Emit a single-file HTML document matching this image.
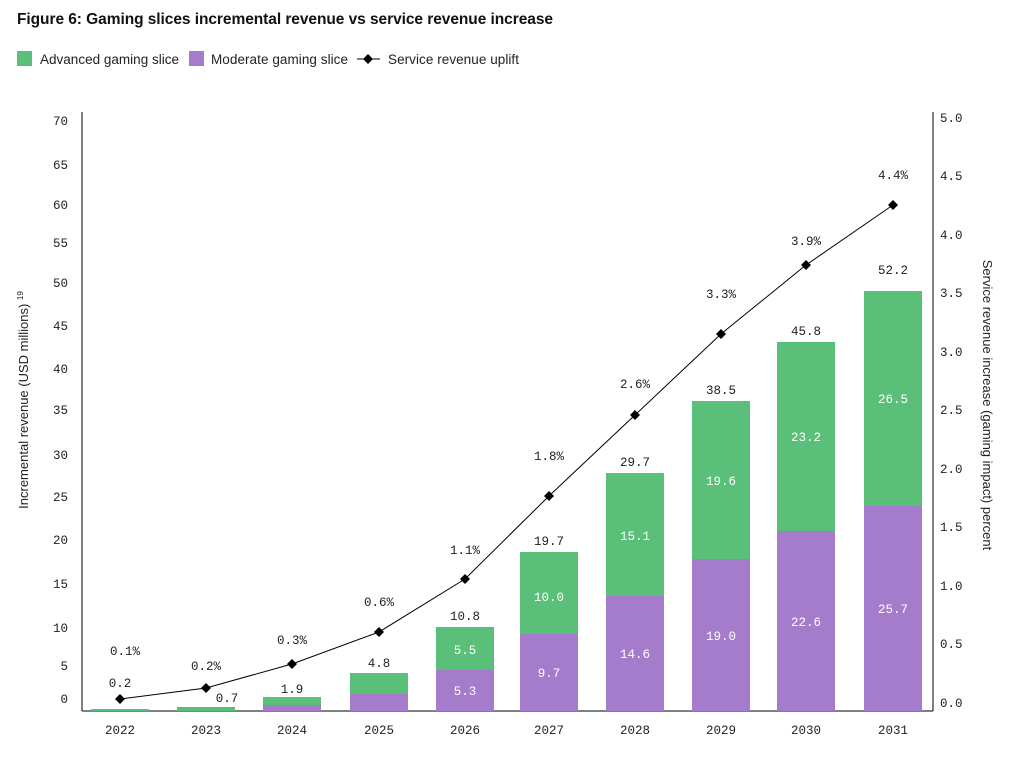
<!DOCTYPE html><html><head><style>body{margin:0;background:#fff}svg{display:block}</style></head><body>
<svg width="1024" height="774" xmlns="http://www.w3.org/2000/svg" font-family="Liberation Sans, sans-serif">
<text x="17" y="24" font-size="15.5" font-weight="bold" fill="#111" textLength="536">Figure 6: Gaming slices incremental revenue vs service revenue increase</text>
<rect x="17" y="51" width="15" height="15" fill="#5abf78"/><text x="40" y="64" font-size="13.5" fill="#222" textLength="139">Advanced gaming slice</text>
<rect x="189" y="51" width="15" height="15" fill="#a57ccc"/><text x="211" y="64" font-size="13.5" fill="#222" textLength="137">Moderate gaming slice</text>
<line x1="357" y1="59" x2="380" y2="59" stroke="#000"/><path d="M368 54l5 5-5 5-5-5z"/><text x="388" y="64" font-size="13.5" fill="#222" textLength="131">Service revenue uplift</text>
<line x1="82" y1="112" x2="82" y2="711" stroke="#000"/><line x1="933" y1="112" x2="933" y2="711" stroke="#000"/><line x1="82" y1="711" x2="933" y2="711" stroke="#000"/>
<g font-family="Liberation Mono, monospace" font-size="12.5" fill="#222" text-anchor="end">
<text x="68" y="125">70</text><text x="68" y="169">65</text><text x="68" y="209">60</text><text x="68" y="247">55</text><text x="68" y="287">50</text><text x="68" y="330">45</text><text x="68" y="373">40</text><text x="68" y="414">35</text><text x="68" y="459">30</text><text x="68" y="501">25</text><text x="68" y="544">20</text><text x="68" y="588">15</text><text x="68" y="632">10</text><text x="68" y="670">5</text><text x="68" y="703">0</text>
</g>
<g font-family="Liberation Mono, monospace" font-size="12.5" fill="#222">
<text x="940" y="122">5.0</text><text x="940" y="180">4.5</text><text x="940" y="239">4.0</text><text x="940" y="297">3.5</text><text x="940" y="356">3.0</text><text x="940" y="414">2.5</text><text x="940" y="473">2.0</text><text x="940" y="531">1.5</text><text x="940" y="590">1.0</text><text x="940" y="648">0.5</text><text x="940" y="707">0.0</text>
</g>
<text transform="translate(28,400) rotate(-90)" font-size="13" fill="#222" text-anchor="middle">Incremental revenue (USD millions) <tspan font-size="8" dy="-5">19</tspan></text>
<text transform="translate(983,405) rotate(90)" font-size="13" fill="#222" text-anchor="middle">Service revenue increase (gaming impact) percent</text>
<g>
<rect x="91" y="709" width="58" height="2" fill="#5abf78"/>
<rect x="177" y="707" width="58" height="4" fill="#5abf78"/>
<rect x="263" y="697" width="58" height="8" fill="#5abf78"/><rect x="263" y="705" width="58" height="6" fill="#a57ccc"/>
<rect x="350" y="673" width="58" height="21" fill="#5abf78"/><rect x="350" y="694" width="58" height="17" fill="#a57ccc"/>
<rect x="436" y="627" width="58" height="43" fill="#5abf78"/><rect x="436" y="670" width="58" height="41" fill="#a57ccc"/>
<rect x="520" y="552" width="58" height="82" fill="#5abf78"/><rect x="520" y="634" width="58" height="77" fill="#a57ccc"/>
<rect x="606" y="473" width="58" height="123" fill="#5abf78"/><rect x="606" y="596" width="58" height="115" fill="#a57ccc"/>
<rect x="692" y="401" width="58" height="158" fill="#5abf78"/><rect x="692" y="559" width="58" height="152" fill="#a57ccc"/>
<rect x="777" y="342" width="58" height="189" fill="#5abf78"/><rect x="777" y="531" width="58" height="180" fill="#a57ccc"/>
<rect x="864" y="291" width="58" height="215" fill="#5abf78"/><rect x="864" y="506" width="58" height="205" fill="#a57ccc"/>
</g>
<g font-family="Liberation Mono, monospace" font-size="12.5" fill="#fff" text-anchor="middle">
<text x="465" y="654">5.5</text><text x="465" y="695">5.3</text>
<text x="549" y="601">10.0</text><text x="549" y="677">9.7</text>
<text x="635" y="540">15.1</text><text x="635" y="658">14.6</text>
<text x="721" y="485">19.6</text><text x="721" y="640">19.0</text>
<text x="806" y="441">23.2</text><text x="806" y="626">22.6</text>
<text x="893" y="403">26.5</text><text x="893" y="613">25.7</text>
</g>
<polyline fill="none" stroke="#000" stroke-width="1" points="120,699 206,688 292,664 379,632 465,579 549,496 635,415 721,334 806,265 893,205"/>
<g fill="#000"><path d="M120 694l5 5-5 5-5-5z"/><path d="M206 683l5 5-5 5-5-5z"/><path d="M292 659l5 5-5 5-5-5z"/><path d="M379 627l5 5-5 5-5-5z"/><path d="M465 574l5 5-5 5-5-5z"/><path d="M549 491l5 5-5 5-5-5z"/><path d="M635 410l5 5-5 5-5-5z"/><path d="M721 329l5 5-5 5-5-5z"/><path d="M806 260l5 5-5 5-5-5z"/><path d="M893 200l5 5-5 5-5-5z"/></g>
<g font-family="Liberation Mono, monospace" font-size="12.5" fill="#222" text-anchor="middle">
<text x="125" y="655">0.1%</text><text x="206" y="670">0.2%</text><text x="292" y="644">0.3%</text><text x="379" y="606">0.6%</text><text x="465" y="554">1.1%</text><text x="549" y="460">1.8%</text><text x="635" y="388">2.6%</text><text x="721" y="298">3.3%</text><text x="806" y="245">3.9%</text><text x="893" y="179">4.4%</text>
<text x="120" y="687">0.2</text><text x="227" y="702">0.7</text><text x="292" y="693">1.9</text><text x="379" y="667">4.8</text><text x="465" y="620">10.8</text><text x="549" y="545">19.7</text><text x="635" y="466">29.7</text><text x="721" y="394">38.5</text><text x="806" y="335">45.8</text><text x="893" y="274">52.2</text>
<text x="120" y="734">2022</text><text x="206" y="734">2023</text><text x="292" y="734">2024</text><text x="379" y="734">2025</text><text x="465" y="734">2026</text><text x="549" y="734">2027</text><text x="635" y="734">2028</text><text x="721" y="734">2029</text><text x="806" y="734">2030</text><text x="893" y="734">2031</text>
</g>
</svg></body></html>
